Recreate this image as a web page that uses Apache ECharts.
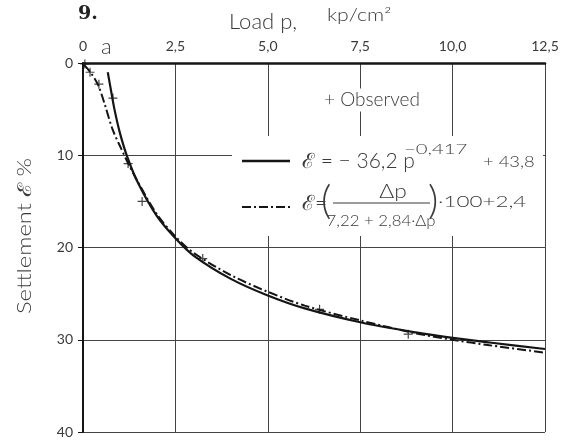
<!DOCTYPE html>
<html>
<head>
<meta charset="utf-8">
<script src="https://cdn.jsdelivr.net/npm/echarts@6/dist/echarts.min.js"></script>
<style>
  html, body { margin: 0; padding: 0; background: #fff; }
  #chart { width: 565px; height: 446px; }
</style>
</head>
<body>
<div id="chart"></div>
<script>
// load p (kp/cm2) and settlement (%)
const pSolid = [0.67, 0.75, 0.85, 1.0, 1.2, 1.5, 2.0, 2.5, 3.0, 4.0, 5.0, 6.0, 7.5, 9.0, 10.0, 11.0, 12.5];
const epsSolid = [1.0, 2.8, 5.0, 7.6, 10.2, 13.1, 16.6, 19.0, 20.9, 23.4, 25.2, 26.6, 28.1, 29.2, 29.8, 30.3, 31.0];

const pDashDot = [0.03, 0.2, 0.41, 0.59, 0.8, 1.0, 1.2, 1.5, 2.0, 2.5, 3.0, 4.0, 5.0, 6.0, 7.5, 9.0, 10.0, 11.0, 12.5];
const epsDashDot = [0.2, 1.0, 2.4, 4.5, 7.2, 9.0, 10.7, 13.0, 16.4, 18.8, 20.6, 23.0, 24.8, 26.3, 27.9, 29.3, 30.0, 30.6, 31.4];

const pObserved = [0.05, 0.19, 0.43, 0.81, 1.22, 1.6, 3.24, 6.4, 8.8];
const epsObserved = [0.1, 1.0, 2.3, 3.8, 10.9, 15.0, 21.2, 26.7, 29.4];

const xTickLabels = ['0', '2,5', '5,0', '7,5', '10,0', '12,5'];
const yTickLabels = ['0', '10', '20', '30', '40'];

const FONT = 'Lato, "DejaVu Sans", sans-serif';
const INK = '#151515';
const TXT = '#3a3a3a';

function zip(a, b) {
  return a.map((v, i) => [v, b[i]]);
}

// graphic text helper: anchor (x, y), font size, align, horizontal stretch
function txt(x, y, text, size, align, sx, more) {
  return Object.assign({
    type: 'text', x: x, y: y, z: 100,
    scaleX: sx || 1,
    style: Object.assign({
      text: text,
      font: '300 ' + size + 'px ' + FONT,
      fill: TXT,
      align: align || 'left', verticalAlign: 'middle',
      textAlign: align || 'left', textVerticalAlign: 'middle'
    }, more || {})
  });
}

let myChart = echarts.init(document.getElementById('chart'));

let option = {
  backgroundColor: '#fff',
  animation: false,
  grid: { left: 83, right: 20, top: 63, bottom: 14 },
  xAxis: {
    type: 'value',
    position: 'top',
    min: 0,
    max: 12.5,
    interval: 2.5,
    axisLine: { show: true, lineStyle: { color: INK, width: 2.5 } },
    axisTick: { show: false },
    axisLabel: {
      margin: 10,
      fontSize: 14,
      fontFamily: FONT,
      color: TXT,
      formatter: v => xTickLabels[Math.round(v / 2.5)]
    },
    splitLine: { show: true, lineStyle: { color: '#444', width: 1 } }
  },
  yAxis: {
    type: 'value',
    inverse: true,
    min: 0,
    max: 40,
    interval: 10,
    axisLine: { show: true, lineStyle: { color: INK, width: 2 } },
    axisTick: { show: true, length: 5, lineStyle: { color: INK, width: 1 } },
    axisLabel: {
      margin: 10,
      fontSize: 14,
      fontFamily: FONT,
      color: TXT,
      formatter: v => yTickLabels[Math.round(v / 10)]
    },
    splitLine: { show: true, lineStyle: { color: '#444', width: 1 } }
  },
  graphic: [
    // white box behind the legend
    { type: 'rect', z: 90, shape: { x: 232, y: 136, width: 311, height: 100 }, style: { fill: '#fff' } },
    {
      type: 'text', x: 78, y: 14, z: 100,
      style: { text: '9.', font: 'bold 19px "DejaVu Serif", serif', fill: '#222', align: 'left', verticalAlign: 'middle', textAlign: 'left', textVerticalAlign: 'middle' }
    },
    txt(229, 22, 'Load p,', 21, 'left', 1.05),
    txt(327, 16, 'kp/cm²', 17, 'left', 1.25),
    txt(101, 47, 'a', 22),
    Object.assign(txt(25, 236, 'Settlement ℰ %', 19, 'center', 1.25), { rotation: Math.PI / 2 }),
    txt(321, 100, '+ Observed', 19, 'left', 1, { backgroundColor: '#fff', padding: [2, 3] }),
    // legend: solid line
    { type: 'line', z: 100, shape: { x1: 242, y1: 161, x2: 290, y2: 161 }, style: { stroke: INK, lineWidth: 2.5 } },
    txt(302, 161, 'ℰ = − 36,2 p', 21),
    txt(404, 149, '−0,417', 14, 'left', 1.45),
    txt(483, 162, '+ 43,8', 16, 'left', 1.15),
    // legend: dash-dot line
    { type: 'line', z: 100, shape: { x1: 242, y1: 207, x2: 290, y2: 207 }, style: { stroke: INK, lineWidth: 2.2, lineDash: [9, 3, 2, 3] } },
    txt(302, 203, 'ℰ=', 21),
    txt(321, 201, '(', 40),
    txt(393, 192, 'Δp', 19, 'center', 1.2),
    { type: 'line', z: 100, shape: { x1: 333, y1: 203, x2: 430, y2: 203 }, style: { stroke: TXT, lineWidth: 1.2 } },
    txt(381, 221, '7,22 + 2,84·Δp', 16, 'center', 1.05),
    txt(428, 201, ')', 40),
    txt(438, 202, '·100+2,4', 16, 'left', 1.4)
  ],
  series: [
    {
      name: 'power',
      type: 'line',
      data: zip(pSolid, epsSolid),
      smooth: 0.3,
      symbol: 'none',
      lineStyle: { color: INK, width: 2.2 },
      z: 3
    },
    {
      name: 'hyperbola',
      type: 'line',
      data: zip(pDashDot, epsDashDot),
      smooth: 0.3,
      symbol: 'none',
      lineStyle: { color: INK, width: 2, type: [9, 3, 2, 3] },
      z: 3
    },
    {
      name: 'Observed',
      type: 'scatter',
      data: zip(pObserved, epsObserved),
      symbol: 'path://M0,-5L0,5M-5,0L5,0',
      symbolSize: 9,
      itemStyle: { color: 'none', borderColor: INK, borderWidth: 1.2 },
      z: 4
    }
  ]
};

myChart.setOption(option);
</script>
</body>
</html>
